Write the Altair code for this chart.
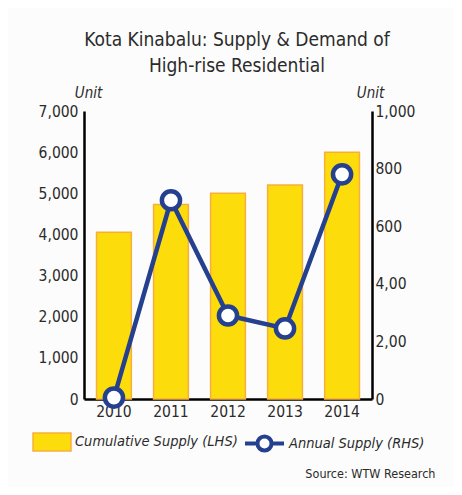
import altair as alt
import pandas as pd

years = ["2010", "2011", "2012", "2013", "2014"]
cumulative_supply = [4050, 4730, 5000, 5200, 6000]
annual_supply = [5, 690, 290, 245, 780]
left_ticks = [0, 1000, 2000, 3000, 4000, 5000, 6000, 7000]
right_ticks = [0, 200, 400, 600, 800, 1000]
right_tick_labels = ["0", "2,00", "4,00", "600", "800", "1,000"]
title_lines = ["Kota Kinabalu: Supply & Demand of", "High-rise Residential"]
series_bar = "Cumulative Supply (LHS)"
series_line = "Annual Supply (RHS)"
source_text = "Source: WTW Research"

df = pd.DataFrame({
    "year": years,
    "cumulative": cumulative_supply,
    "annual": annual_supply,
    "s1": [series_bar] * len(years),
    "s2": [series_line] * len(years),
})

FONT = "DejaVu Sans Condensed, DejaVu Sans, sans-serif"
YELLOW = "#FCDC0A"
ORANGE = "#F7AE3F"
NAVY = "#24408E"
TEXT = "#2b2b2b"
TICK_FS = 15.5

label_expr = " : ".join(
    f"datum.value == {v} ? '{l}'" for v, l in zip(right_ticks, right_tick_labels)
) + " : ''"

x_enc = alt.X(
    "year:N",
    scale=alt.Scale(paddingInner=0.39, paddingOuter=0.22),
    axis=alt.Axis(
        title=source_text, labelAngle=0, ticks=False, domainColor="black",
        domainWidth=2.5, labelPadding=5, labelFontSize=TICK_FS, labelColor=TEXT,
        titleX=351, titleY=78, titleAlign="right", titleBaseline="alphabetic",
        titleFontSize=12.5, titleFontWeight="normal", titleColor=TEXT,
    ),
)

y_left = alt.Y(
    "cumulative:Q",
    scale=alt.Scale(domain=[0, 7000], nice=False),
    axis=alt.Axis(
        values=left_ticks, format=",.0f", ticks=False, domainColor="black",
        domainWidth=2.5, labelPadding=6, labelFontSize=TICK_FS, labelColor=TEXT,
        title="Unit", titleAngle=0, titleX=4, titleY=-14, titleAlign="center",
        titleBaseline="alphabetic", titleFontStyle="italic", titleFontSize=15,
        titleFontWeight="normal", titleColor=TEXT,
    ),
)

y_right = alt.Y(
    "annual:Q",
    scale=alt.Scale(domain=[0, 1000], nice=False),
    axis=alt.Axis(
        orient="right", values=right_ticks, labelExpr=label_expr, ticks=False,
        domainColor="black", domainWidth=2.5, labelPadding=3, labelFontSize=TICK_FS,
        labelColor=TEXT, title="Unit", titleAngle=0, titleX=-2, titleY=-14,
        titleAlign="center", titleBaseline="alphabetic", titleFontStyle="italic",
        titleFontSize=15, titleFontWeight="normal", titleColor=TEXT,
    ),
)

bars = alt.Chart(df).mark_bar(stroke=ORANGE, strokeWidth=1.5).encode(
    x=x_enc,
    y=y_left,
    fill=alt.Fill(
        "s1:N",
        scale=alt.Scale(range=[YELLOW]),
        legend=alt.Legend(
            title=None, orient="none", legendX=-52, legendY=311,
            symbolType="M-1,-0.47H1V0.47H-1Z", symbolSize=1444,
            symbolStrokeColor=ORANGE, symbolStrokeWidth=1.5,
            labelFontSize=14.5, labelFontStyle="italic", labelColor=TEXT,
            labelOffset=3, labelLimit=300,
        ),
    ),
)

line = alt.Chart(df).mark_line(color=NAVY, strokeWidth=4.5).encode(
    x=x_enc, y=y_right
)

points = alt.Chart(df).mark_point(
    shape="circle", filled=True, fill="white", strokeWidth=4.5, size=330, opacity=1
).encode(
    x=x_enc,
    y=y_right,
    stroke=alt.Stroke(
        "s2:N",
        scale=alt.Scale(range=[NAVY]),
        legend=alt.Legend(
            title=None, orient="none", legendX=159, legendY=311,
            symbolType="M-1,0L-0.36,0M0.36,0L1,0M-0.36,0A0.36,0.36 0 1 0 0.36,0A0.36,0.36 0 1 0 -0.36,0Z",
            symbolSize=1521, symbolStrokeWidth=4, symbolFillColor="white",
            labelFontSize=14.5, labelFontStyle="italic", labelColor=TEXT,
            labelOffset=3, labelLimit=300,
        ),
    ),
)

chart = (
    alt.layer(bars, alt.layer(line, points))
    .resolve_scale(y="independent", fill="independent", stroke="independent")
    .properties(
        width=288,
        height=288,
        autosize=alt.AutoSizeParams(type="none"),
        padding={"left": 76, "top": 103, "right": 82, "bottom": 88},
        background="#FCFCFC",
        title=alt.TitleParams(
            title_lines, font=FONT, fontSize=19, fontWeight="normal", color=TEXT,
            lineHeight=26, anchor="middle", dx=9, offset=9,
        ),
    )
    .configure(font=FONT)
    .configure_view(stroke=None)
    .configure_axis(grid=False, labelFont=FONT, titleFont=FONT)
    .configure_legend(labelFont=FONT)
)

chart.save("out.html", embed_options={"renderer": "svg", "actions": False})
